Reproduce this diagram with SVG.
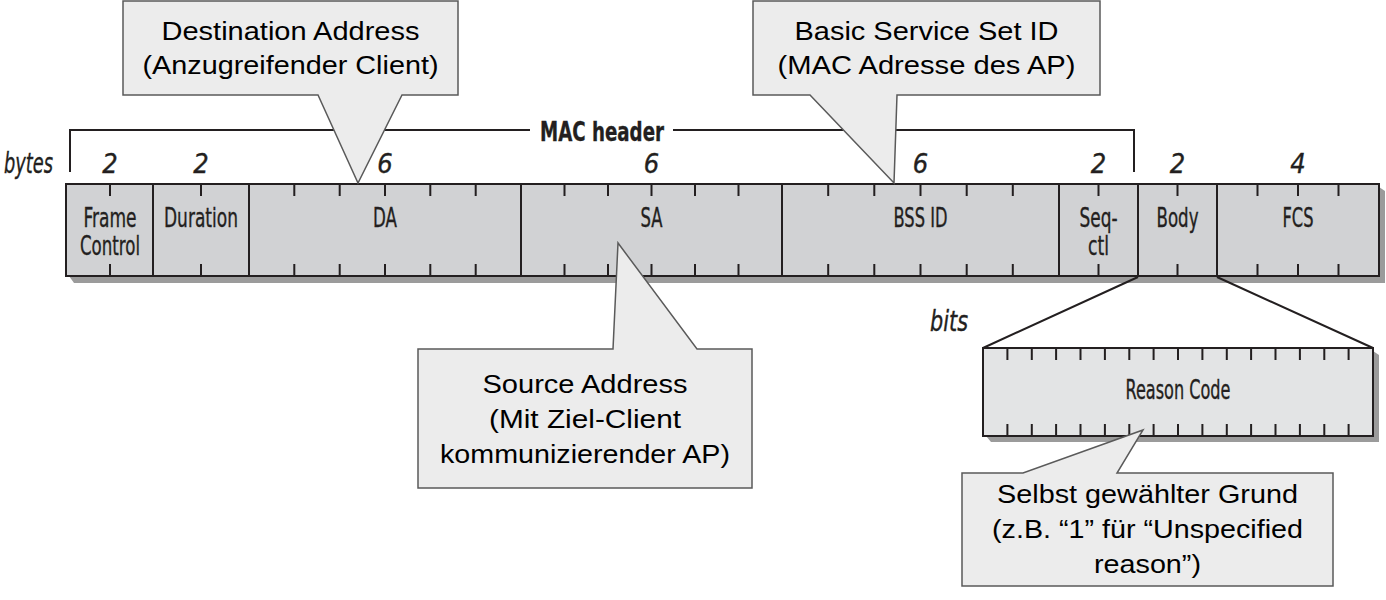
<svg xmlns="http://www.w3.org/2000/svg" width="1386" height="600" viewBox="0 0 1386 600">
<style>
.bar{fill:#d1d2d4;stroke:#231f20;stroke-width:2}
.rbox{fill:#e3e4e5;stroke:#231f20;stroke-width:2}
.shadow{fill:#9b9b9b}
.tick{stroke:#231f20;stroke-width:2;fill:none}
.line{stroke:#231f20;stroke-width:2;fill:none}
.cond{font-family:"Liberation Sans Narrow","DejaVu Sans Condensed","Liberation Sans",sans-serif;fill:#231f20;stroke:#231f20;stroke-width:0.35;text-anchor:middle}
.lbl{font-size:26px}
.num{font-size:27px;font-style:italic}
.unit{font-size:28px;font-style:italic;text-anchor:start}
.hdr{font-size:27px;font-weight:bold}
.callout{fill:#ececec;stroke:#5a5a5a;stroke-width:1.5}
.ct{font-family:"Liberation Sans",Arial,sans-serif;font-size:26px;fill:#000;text-anchor:middle}
</style>

<g id="frame">
  <polygon class="shadow" points="69,276 1379,276 1379,187 1385,191 1385,283 74,283"/>
  <rect class="bar" x="66" y="184" width="1313" height="92"/>
  <g class="tick">
    <path d="M153,184V276 M249,184V276 M521,184V276 M782,184V276 M1059,184V276 M1138,184V276 M1217,184V276"/>
    <path d="M110,184v12 M110,276v-12 M201,184v12 M201,276v-12
      M294.3,184v12 M294.3,276v-12 M339.7,184v12 M339.7,276v-12 M385,184v12 M385,276v-12 M430.3,184v12 M430.3,276v-12 M475.7,184v12 M475.7,276v-12
      M564.5,184v12 M564.5,276v-12 M608,184v12 M608,276v-12 M651.5,184v12 M651.5,276v-12 M695,184v12 M695,276v-12 M738.5,184v12 M738.5,276v-12
      M828.2,184v12 M828.2,276v-12 M874.3,184v12 M874.3,276v-12 M920.5,184v12 M920.5,276v-12 M966.7,184v12 M966.7,276v-12 M1012.8,184v12 M1012.8,276v-12
      M1098.5,184v12 M1098.5,276v-12 M1177.5,184v12 M1177.5,276v-12
      M1257.5,184v12 M1257.5,276v-12 M1298,184v12 M1298,276v-12 M1338.5,184v12 M1338.5,276v-12"/>
  </g>
</g>

<g id="field-frame-control"><text class="cond lbl" x="110" y="227" textLength="53" lengthAdjust="spacingAndGlyphs">Frame</text><text class="cond lbl" x="110" y="255" textLength="60" lengthAdjust="spacingAndGlyphs">Control</text><text class="cond num" x="110" y="173">2</text></g>
<g id="field-duration"><text class="cond lbl" x="201" y="227" textLength="74" lengthAdjust="spacingAndGlyphs">Duration</text><text class="cond num" x="201" y="173">2</text></g>
<g id="field-da"><text class="cond lbl" x="385" y="227" textLength="24" lengthAdjust="spacingAndGlyphs">DA</text><text class="cond num" x="385" y="173">6</text></g>
<g id="field-sa"><text class="cond lbl" x="651.5" y="227" textLength="22" lengthAdjust="spacingAndGlyphs">SA</text><text class="cond num" x="651.5" y="173">6</text></g>
<g id="field-bssid"><text class="cond lbl" x="920.5" y="227" textLength="54" lengthAdjust="spacingAndGlyphs">BSS ID</text><text class="cond num" x="920.5" y="173">6</text></g>
<g id="field-seqctl"><text class="cond lbl" x="1098.5" y="227" textLength="38" lengthAdjust="spacingAndGlyphs">Seq-</text><text class="cond lbl" x="1098.5" y="255" textLength="21" lengthAdjust="spacingAndGlyphs">ctl</text><text class="cond num" x="1098.5" y="173">2</text></g>
<g id="field-body"><text class="cond lbl" x="1177.5" y="227" textLength="42" lengthAdjust="spacingAndGlyphs">Body</text><text class="cond num" x="1177.5" y="173">2</text></g>
<g id="field-fcs"><text class="cond lbl" x="1298" y="227" textLength="31" lengthAdjust="spacingAndGlyphs">FCS</text><text class="cond num" x="1298" y="173">4</text></g>

<g id="bytes-label"><text class="cond unit" x="4" y="173" textLength="49" lengthAdjust="spacingAndGlyphs">bytes</text></g>

<g id="mac-header">
  <path class="line" d="M70,172V130H530 M673,130H1134V172"/>
  <text class="cond hdr" x="602" y="141" textLength="124" lengthAdjust="spacingAndGlyphs">MAC header</text>
</g>

<g id="connectors">
  <path class="line" d="M1138,277L983,348 M1217,277L1373,348"/>
</g>

<g id="reason-code">
  <polygon class="shadow" points="986,436 1373,436 1373,351 1379,355 1379,442 991,442"/>
  <rect class="rbox" x="983" y="348" width="390" height="88"/>
  <path class="tick" d="M1007.4,348v12 M1031.8,348v12 M1056.1,348v12 M1080.5,348v12 M1104.9,348v12 M1129.3,348v12 M1153.6,348v12 M1178,348v12 M1202.4,348v12 M1226.8,348v12 M1251.1,348v12 M1275.5,348v12 M1299.9,348v12 M1324.3,348v12 M1348.6,348v12
    M1007.4,436v-12 M1031.8,436v-12 M1056.1,436v-12 M1080.5,436v-12 M1104.9,436v-12 M1129.3,436v-12 M1153.6,436v-12 M1178,436v-12 M1202.4,436v-12 M1226.8,436v-12 M1251.1,436v-12 M1275.5,436v-12 M1299.9,436v-12 M1324.3,436v-12 M1348.6,436v-12"/>
  <text class="cond lbl" x="1178" y="399" textLength="105" lengthAdjust="spacingAndGlyphs">Reason Code</text>
</g>

<g id="bits-label"><text class="cond unit" x="930" y="331" textLength="38" lengthAdjust="spacingAndGlyphs">bits</text></g>

<g id="callout-da">
  <path class="callout" d="M123,1H458V95H402L358,183L318,95H123Z"/>
  <text class="ct" x="290.5" y="40" textLength="258" lengthAdjust="spacingAndGlyphs">Destination Address</text>
  <text class="ct" x="290.5" y="74" textLength="296" lengthAdjust="spacingAndGlyphs">(Anzugreifender Client)</text>
</g>

<g id="callout-bssid">
  <path class="callout" d="M753,1H1100V95H897L894,183L810,95H753Z"/>
  <text class="ct" x="926.5" y="40" textLength="264" lengthAdjust="spacingAndGlyphs">Basic Service Set ID</text>
  <text class="ct" x="926.5" y="74" textLength="298" lengthAdjust="spacingAndGlyphs">(MAC Adresse des AP)</text>
</g>

<g id="callout-sa">
  <path class="callout" d="M418,349H613L618,243L697,349H752V488H418Z"/>
  <text class="ct" x="585" y="393" textLength="205" lengthAdjust="spacingAndGlyphs">Source Address</text>
  <text class="ct" x="585" y="428" textLength="192" lengthAdjust="spacingAndGlyphs">(Mit Ziel-Client</text>
  <text class="ct" x="585" y="463" textLength="290" lengthAdjust="spacingAndGlyphs">kommunizierender AP)</text>
</g>

<g id="callout-reason">
  <path class="callout" d="M962,473H1023L1143,430L1117,473H1333V586H962Z"/>
  <text class="ct" x="1147.5" y="503" textLength="301" lengthAdjust="spacingAndGlyphs">Selbst gewählter Grund</text>
  <text class="ct" x="1147.5" y="538" textLength="311" lengthAdjust="spacingAndGlyphs">(z.B. “1” für “Unspecified</text>
  <text class="ct" x="1147.5" y="573" textLength="107" lengthAdjust="spacingAndGlyphs">reason”)</text>
</g>
</svg>
